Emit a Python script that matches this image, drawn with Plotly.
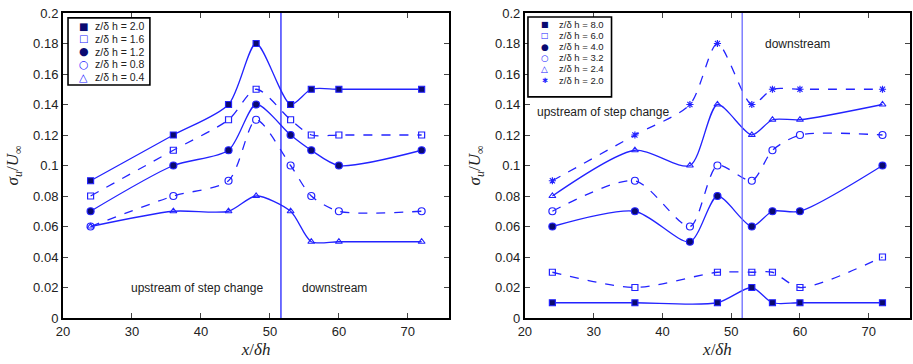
import plotly.graph_objects as go

# Streamwise stations (x / delta h)
x_stations = [24, 36, 44, 48, 53, 56, 60, 72]
x_no44 = [24, 36, 48, 53, 56, 60, 72]
STEP_X = 51.6  # location of the roughness step change

# Left panel: near-surface heights
left_labels = ["z/δ h = 2.0", "z/δ h = 1.6", "z/δ h = 1.2", "z/δ h = 0.8", "z/δ h = 0.4"]
left_z20 = [0.09, 0.12, 0.14, 0.18, 0.14, 0.15, 0.15, 0.15]
left_z16 = [0.08, 0.11, 0.13, 0.15, 0.13, 0.12, 0.12, 0.12]
left_z12 = [0.07, 0.10, 0.11, 0.14, 0.12, 0.11, 0.10, 0.11]
left_z08 = [0.06, 0.08, 0.09, 0.13, 0.10, 0.08, 0.07, 0.07]
left_z04 = [0.06, 0.07, 0.07, 0.08, 0.07, 0.05, 0.05, 0.05]

# Right panel: outer heights
right_labels = ["z/δ h = 8.0", "z/δ h = 6.0", "z/δ h = 4.0", "z/δ h = 3.2", "z/δ h = 2.4", "z/δ h = 2.0"]
right_z80 = [0.01, 0.01, 0.01, 0.02, 0.01, 0.01, 0.01]
right_z60 = [0.03, 0.02, 0.03, 0.03, 0.03, 0.02, 0.04]
right_z40 = [0.06, 0.07, 0.05, 0.08, 0.06, 0.07, 0.07, 0.10]
right_z32 = [0.07, 0.09, 0.06, 0.10, 0.09, 0.11, 0.12, 0.12]
right_z24 = [0.08, 0.11, 0.10, 0.14, 0.12, 0.13, 0.13, 0.14]
right_z20 = [0.09, 0.12, 0.14, 0.18, 0.14, 0.15, 0.15, 0.15]

BLUE = "#2323ff"
NAVY = "#0a0a70"

# marker styles: (plotly symbol, fill colour, dash, key glyph, glyph colour, glyph size)
styles = {
    "sq": ("square", NAVY, "solid", "■", NAVY, 10),
    "sqo": ("square-open", BLUE, "dash", "□", BLUE, 10),
    "ci": ("circle", NAVY, "solid", "●", NAVY, 11),
    "cio": ("circle-open", BLUE, "dash", "○", BLUE, 11),
    "tri": ("triangle-up-open", BLUE, "solid", "△", BLUE, 11),
    "ast": ("asterisk-open", BLUE, "dash", "✱", BLUE, 9),
}

fig = go.Figure()


def add_series(xs, ys, label, style, axis):
    sym, col, dash = styles[style][:3]
    xa, ya = axis
    fig.add_trace(go.Scatter(
        x=xs, y=ys, mode="lines+markers", xaxis=xa, yaxis=ya, name=label,
        line=dict(color=BLUE, width=1.3, dash=dash, shape="spline", smoothing=0.75),
        marker=dict(symbol=sym, size=7 if "circle" in sym else 6, color=col,
                    line=dict(color=BLUE, width=1.2)),
        showlegend=False,
    ))


left_series = [left_z20, left_z16, left_z12, left_z08, left_z04]
left_styles = ["sq", "sqo", "ci", "cio", "tri"]
for ys, lab, st in zip(left_series, left_labels, left_styles):
    add_series(x_stations, ys, lab, st, ("x", "y"))

right_series = [(x_no44, right_z80), (x_no44, right_z60), (x_stations, right_z40),
                (x_stations, right_z32), (x_stations, right_z24), (x_stations, right_z20)]
right_styles = ["sq", "sqo", "ci", "cio", "tri", "ast"]
for (xs, ys), lab, st in zip(right_series, right_labels, right_styles):
    add_series(xs, ys, lab, st, ("x2", "y2"))

tick_font = dict(family="Liberation Sans, Arial, sans-serif", size=13, color="#222")
title_font = dict(family="Liberation Serif, Times New Roman, serif", size=17, color="#222")

axis_common = dict(
    showline=True, linecolor="black", linewidth=2, mirror="allticks",
    ticks="inside", ticklen=5, tickwidth=1, tickcolor="#444",
    showgrid=False, zeroline=False, tickfont=tick_font,
)

xtitle = "<i>x</i>/<i>δh</i>"
ytitle = "<i>σ<sub>u</sub></i>/<i>U</i><sub>∞</sub>"

fig.update_layout(
    width=913, height=364,
    margin=dict(l=63, r=1, t=13, b=46),
    plot_bgcolor="white", paper_bgcolor="white",
    showlegend=False,
    xaxis=dict(domain=[0, 0.456], range=[20, 76], dtick=10, tick0=20,
               title=dict(text=xtitle, font=title_font, standoff=6), anchor="y", **axis_common),
    yaxis=dict(range=[0, 0.2], dtick=0.02,
               title=dict(text=ytitle, font=title_font, standoff=10), anchor="x", **axis_common),
    xaxis2=dict(domain=[0.5453, 1.0], range=[20, 76], dtick=10, tick0=20,
                title=dict(text=xtitle, font=title_font, standoff=6), anchor="y2", **axis_common),
    yaxis2=dict(range=[0, 0.2], dtick=0.02,
                title=dict(text=ytitle, font=title_font, standoff=10), anchor="x2", **axis_common),
)

# step change location in both panels
for xr, yr, col in [("x", "y domain", BLUE), ("x2", "y2 domain", "#6a6aff")]:
    fig.add_shape(type="line", xref=xr, yref=yr, x0=STEP_X, x1=STEP_X, y0=0, y1=1,
                  line=dict(color=col, width=1.3))


def draw_key(xr, yr, labels, style_keys, box, glyph_x, text_x, row0, row_step, size, gscale):
    """Compact boxed key: one glyph and one label per row (axis-domain coordinates)."""
    x0, x1, y0, y1 = box
    fig.add_shape(type="rect", xref=xr, yref=yr, x0=x0, x1=x1, y0=y0, y1=y1,
                  line=dict(color="black", width=1.6), fillcolor="white", layer="above")
    for i, (lab, st) in enumerate(zip(labels, style_keys)):
        glyph, gcol, gsize = styles[st][3], styles[st][4], styles[st][5] * gscale
        yy = row0 - i * row_step
        fig.add_annotation(xref=xr, yref=yr, x=glyph_x, y=yy, text=glyph, showarrow=False,
                           xanchor="center", yanchor="middle",
                           font=dict(family="DejaVu Sans", size=gsize, color=gcol))
        fig.add_annotation(xref=xr, yref=yr, x=text_x, y=yy, text=lab, showarrow=False,
                           xanchor="left", yanchor="middle",
                           font=dict(family="Liberation Sans, Arial, sans-serif", size=size,
                                     color="#222"))


draw_key("x domain", "y domain", left_labels, left_styles,
         (0.013, 0.225, 0.764, 0.984), 0.054, 0.078, 1 - 13 / 305, 12.8 / 305, 10.5, 1.0)
draw_key("x2 domain", "y2 domain", right_labels, right_styles,
         (0.008, 0.225, 0.725, 0.987), 0.052, 0.083, 1 - 11.3 / 305, 11.14 / 305, 9.5, 0.8)

ann_font = dict(family="Liberation Sans, Arial, sans-serif", size=12, color="#222")
fig.add_annotation(x=39.4, y=0.02, xref="x", yref="y", text="upstream of step change",
                   showarrow=False, font=ann_font)
fig.add_annotation(x=59.3, y=0.02, xref="x", yref="y", text="downstream",
                   showarrow=False, font=ann_font)
fig.add_annotation(x=31.3, y=0.135, xref="x2", yref="y2", text="upstream of step change",
                   showarrow=False, font=ann_font)
fig.add_annotation(x=59.7, y=0.180, xref="x2", yref="y2", text="downstream",
                   showarrow=False, font=ann_font)

fig.write_html("out.html")
